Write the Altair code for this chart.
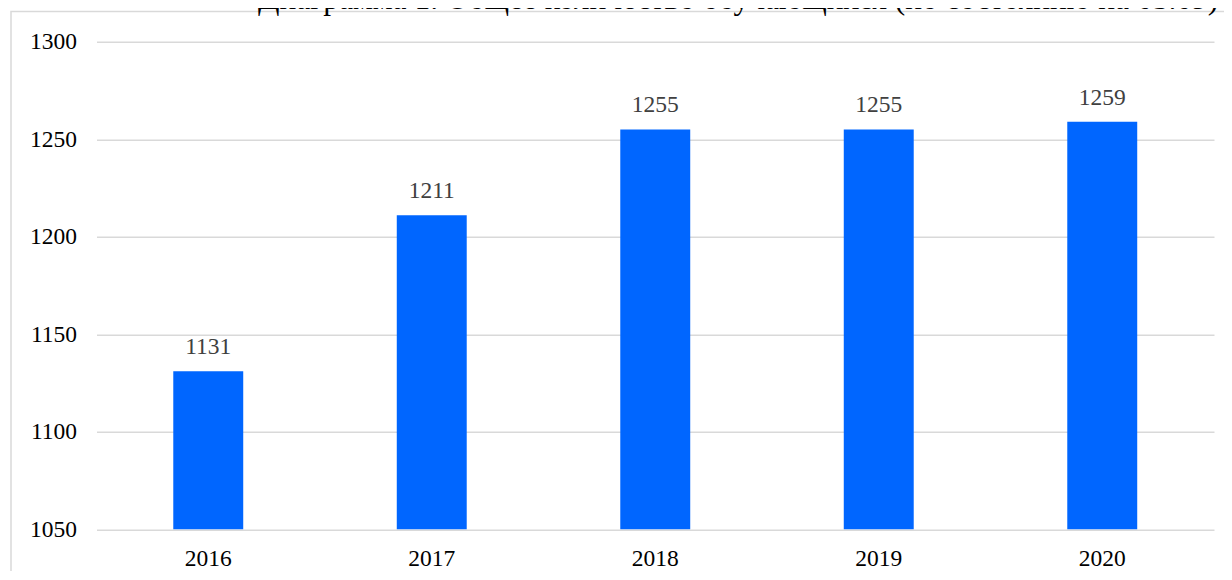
import altair as alt
import pandas as pd

years = ["2016", "2017", "2018", "2019", "2020"]
counts = [1131, 1211, 1255, 1255, 1259]
y_ticks = [1050, 1100, 1150, 1200, 1250, 1300]
title_text = "Диаграмма 1. Общее количество обучающихся (по состоянию на 05.09)"

df = pd.DataFrame({"year": years, "count": counts})
one = pd.DataFrame({"t": [title_text]})

FONT = "Liberation Serif"
FS = 23.5
W, H = 1117.5, 487.6
PL, PT = 88.5, 33.7

x = alt.X(
    "year:N", sort=years,
    scale=alt.Scale(paddingInner=0.687, paddingOuter=0.3435),
    axis=alt.Axis(title=None, labelAngle=0, ticks=False, domain=False,
                  labelFont=FONT, labelFontSize=FS, labelColor="#000000",
                  labelPadding=17),
)
y = alt.Y(
    "count:Q",
    scale=alt.Scale(domain=[1050, 1300], zero=False, nice=False),
    axis=alt.Axis(title=None, values=y_ticks, format="d", ticks=False, domain=False,
                  grid=True, gridColor="#D9D9D9", gridWidth=1.5,
                  labelFont=FONT, labelFontSize=FS, labelColor="#000000",
                  labelPadding=20),
)

bars = alt.Chart(df).mark_bar(color="#0066FF", clip=True).encode(x=x, y=y)
labels = alt.Chart(df).mark_text(
    font=FONT, fontSize=FS, color="#404040", baseline="alphabetic", dy=-17
).encode(x=x, y=y, text="count:Q")

frame = alt.Chart(one).mark_rect(
    filled=False, stroke="#D9D9D9", strokeWidth=1.5
).encode(
    x=alt.value(3 - PL), x2=alt.value(1300),
    y=alt.value(3.5 - PT), y2=alt.value(700),
)

title = alt.Chart(one).mark_text(
    font=FONT, fontSize=31.5, color="#000000", align="left", baseline="alphabetic"
).encode(
    x=alt.value(250 - PL), y=alt.value(1.5 - PT), text="t:N"
)

chart = alt.layer(frame, bars, labels, title).properties(
    width=W, height=H,
    autosize=alt.AutoSizeParams(type="none"),
    padding={"left": PL, "top": PT, "right": 10, "bottom": 42},
).configure_view(stroke=None)

chart.save("out.html", embed_options={"renderer": "svg", "actions": False})
